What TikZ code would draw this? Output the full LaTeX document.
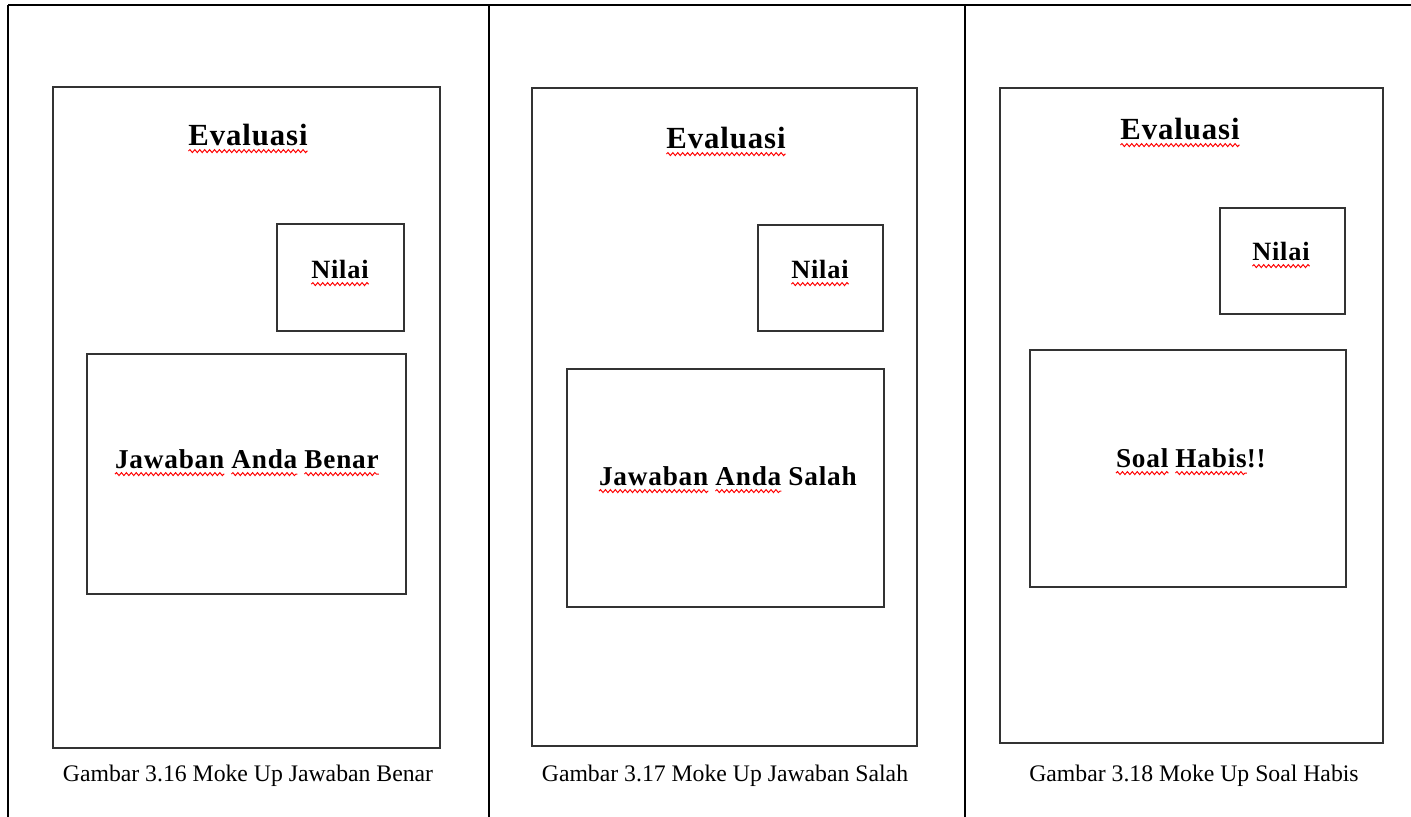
\documentclass[tikz,border=0pt]{standalone}
\usepackage{fontspec}
\setmainfont{Liberation Serif}[BoldFeatures={LetterSpace=3}]
\usepackage{xcolor}
\usepackage{tikz}
\usetikzlibrary{positioning,decorations.pathmorphing}

% red spell-check wave under a word node
\newcommand\spellmark[1]{\draw[spell] ([yshift=-2.9pt]#1.base west) -- ([yshift=-2.9pt]#1.base east);}

\begin{document}
\begin{tikzpicture}[
  x=0.02cm, y=-0.02cm,
  rule/.style={line width=1.2pt,black},
  frame/.style={rectangle,draw=black!80,line width=0.95pt,inner sep=0pt,outer sep=0pt},
  heading/.style={inner sep=0pt,outer sep=0pt,anchor=base,font=\fontsize{17.5}{20}\selectfont\bfseries},
  label/.style={inner sep=0pt,outer sep=0pt,anchor=base,font=\fontsize{15}{18}\selectfont\bfseries},
  msg/.style={inner sep=0pt,outer sep=0pt,font=\fontsize{15.5}{18}\selectfont\bfseries},
  caption/.style={anchor=base,font=\fontsize{13.5}{16}\selectfont},
  spell/.style={draw=red,line width=0.55pt,decorate,decoration={snake,amplitude=0.85pt,segment length=2.8pt}}
]
\useasboundingbox (0,0) rectangle (1411,817);

% table lines
\draw[rule] (8,5) -- (1411,5);
\draw[rule] (8,5) -- (8,817);
\draw[rule] (489,5) -- (489,817);
\draw[rule] (965,5) -- (965,817);

% Gambar 3.16
\node[frame,minimum width=7.74cm,minimum height=13.22cm] (scrA) at (246.5,417.5) {};
\node[frame,minimum width=2.54cm,minimum height=2.14cm] (nilaiA) at (340.5,277.5) {};
\node[frame,minimum width=6.38cm,minimum height=4.8cm] (pesanA) at (246.5,474) {};
\node[heading] (evalA) at (248,146) {Evaluasi};
\node[label] (txtnilaiA) at (340,279) {Nilai};
\node[msg,anchor=base west] (jawA) at (115,469) {Jawaban};
\node[msg,base right=4pt of jawA] (andaA) {Anda};
\node[msg,base right=4pt of andaA] (benarA) {Benar};
\node[caption] (capA) at (248,781) {Gambar 3.16 Moke Up Jawaban Benar};
\spellmark{evalA}
\spellmark{txtnilaiA}
\spellmark{jawA}
\spellmark{andaA}
\spellmark{benarA}

% Gambar 3.17
\node[frame,minimum width=7.7cm,minimum height=13.16cm] (scrB) at (724.5,417) {};
\node[frame,minimum width=2.5cm,minimum height=2.12cm] (nilaiB) at (820.5,278) {};
\node[frame,minimum width=6.34cm,minimum height=4.76cm] (pesanB) at (725.5,488) {};
\node[heading] (evalB) at (726,149) {Evaluasi};
\node[label] (txtnilaiB) at (820,279) {Nilai};
\node[msg,anchor=base west] (jawB) at (599,486) {Jawaban};
\node[msg,base right=4pt of jawB] (andaB) {Anda};
\node[msg,base right=4pt of andaB] (salahB) {Salah};
\node[caption] (capB) at (725,781) {Gambar 3.17 Moke Up Jawaban Salah};
\spellmark{evalB}
\spellmark{txtnilaiB}
\spellmark{jawB}
\spellmark{andaB}

% Gambar 3.18
\node[frame,minimum width=7.66cm,minimum height=13.1cm] (scrC) at (1191.5,415.5) {};
\node[frame,minimum width=2.5cm,minimum height=2.12cm] (nilaiC) at (1282.5,261) {};
\node[frame,minimum width=6.32cm,minimum height=4.74cm] (pesanC) at (1188,468.5) {};
\node[heading] (evalC) at (1180,140) {Evaluasi};
\node[label] (txtnilaiC) at (1281,261) {Nilai};
\node[msg,anchor=base west] (soalC) at (1116,468) {Soal};
\node[msg,base right=4pt of soalC] (habisC) {Habis};
\node[msg,base right=0pt of habisC] (serC) {!!};
\node[caption] (capC) at (1194,781) {Gambar 3.18 Moke Up Soal Habis};
\spellmark{evalC}
\spellmark{txtnilaiC}
\spellmark{soalC}
\spellmark{habisC}
\end{tikzpicture}
\end{document}
